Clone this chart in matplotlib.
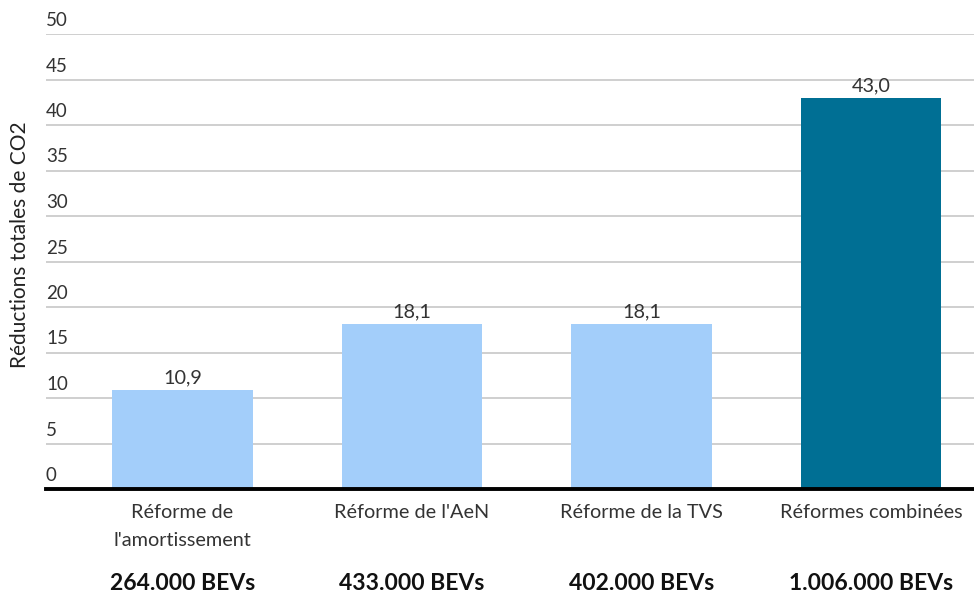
import matplotlib.pyplot as plt
import matplotlib.transforms as mtransforms
import numpy as np

plt.rcParams['font.family'] = ['Lato', 'DejaVu Sans']

# reforms, CO2 reductions and EV counts
categories = ["Réforme de\nl'amortissement", "Réforme de l'AeN",
              "Réforme de la TVS", "Réformes combinées"]
reductions = [10.9, 18.1, 18.1, 43.0]
bev_counts = ["264.000 BEVs", "433.000 BEVs", "402.000 BEVs", "1.006.000 BEVs"]
y_ticks = [0, 5, 10, 15, 20, 25, 30, 35, 40, 45, 50]

LIGHT = '#a3cefa'
DARK = '#006f94'
TEXT = '#333333'

fig = plt.figure(figsize=(9.74, 5.94), dpi=100)
ax = fig.add_axes([46 / 974, 105 / 594, 928 / 974, 455 / 594])

x = np.arange(len(categories))
colors = [LIGHT, LIGHT, LIGHT, DARK]
bars = ax.bar(x, reductions, width=0.614, color=colors, zorder=2)

ax.set_xlim(-0.595, 3.449)
ax.set_ylim(0, 50)

# grid lines, labels sit above each line on the left
ax.set_yticks(y_ticks)
ax.yaxis.grid(True, color='#cccccc', linewidth=1.3, zorder=0)
ax.tick_params(axis='y', length=0, labelleft=False)
trans = mtransforms.blended_transform_factory(ax.transAxes, ax.transData)
offset = mtransforms.ScaledTranslation(0, 5 / 100, fig.dpi_scale_trans)
for t in y_ticks:
    ax.text(0.0, t, str(t), transform=trans + offset, ha='left', va='bottom',
            fontsize=13.5, color=TEXT)

for spine in ['top', 'right', 'left']:
    ax.spines[spine].set_visible(False)
ax.spines['bottom'].set_linewidth(2.8)
ax.spines['bottom'].set_color('black')
ax.spines['bottom'].set_zorder(3)

ax.set_xticks(x)
ax.set_xticklabels(categories, fontsize=14.3, color=TEXT, linespacing=1.75)
ax.tick_params(axis='x', length=0, pad=11)

# value labels above bars
for rect, val in zip(bars, reductions):
    ax.text(rect.get_x() + rect.get_width() / 2, val + 0.4,
            f"{val:.1f}".replace('.', ','), ha='center', va='bottom',
            fontsize=14.3, color=TEXT)

# EV counts under the categories
xtrans = mtransforms.blended_transform_factory(ax.transData, fig.transFigure)
for xi, label in zip(x, bev_counts):
    ax.text(xi, 11 / 594, label, transform=xtrans, ha='center', va='center',
            fontsize=16.5, fontweight='bold', color='#111111')

fig.text(20 / 974, 1 - 245 / 594, 'Réductions totales de CO2', rotation=90,
         ha='center', va='center', fontsize=15, color='#222222')

fig.savefig('out.png', dpi=100)
